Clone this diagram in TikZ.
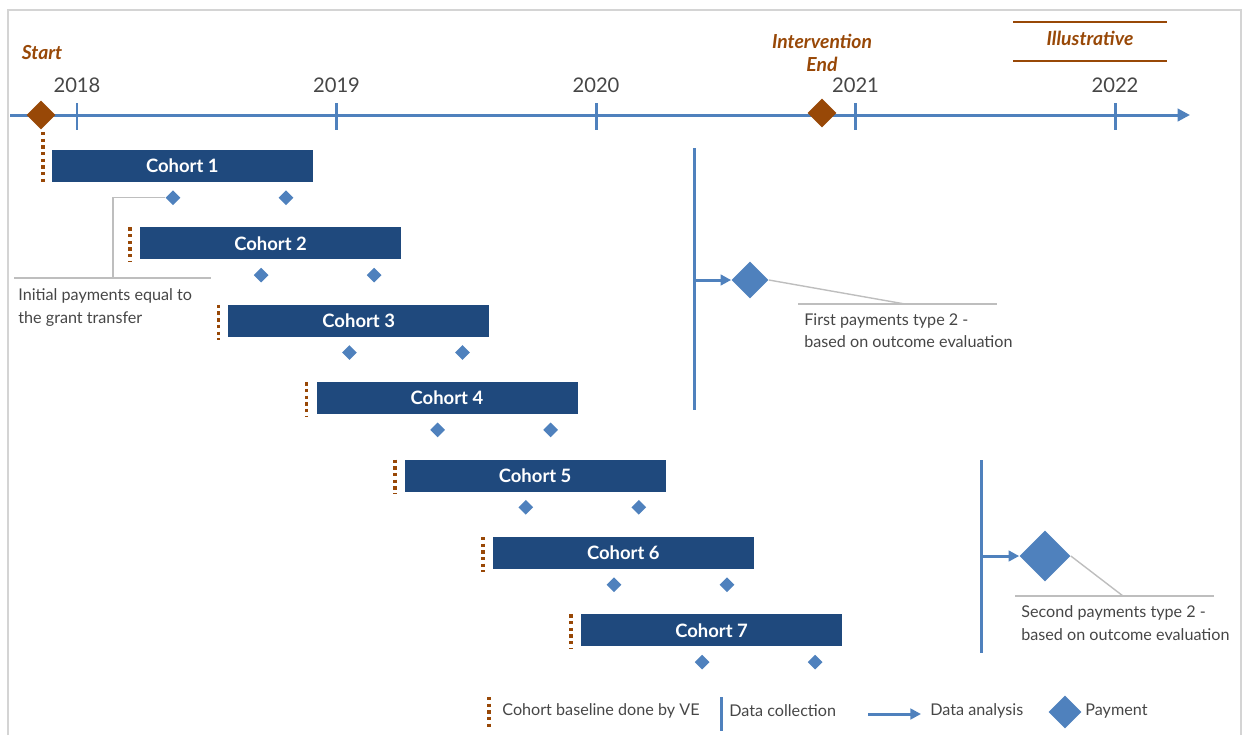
\documentclass[tikz,border=0pt]{standalone}
\usepackage{fontspec}
\setmainfont{Lato}
\usetikzlibrary{arrows.meta, positioning, shapes.geometric, calc}

\begin{document}
\begin{tikzpicture}[x=0.02cm, y=-0.02cm, every node/.style={font=\fontsize{9.2}{13}\selectfont, text=textgray}]
    % Define consistent colors
    \definecolor{barblue}{RGB}{31,73,125}
    \definecolor{lineblue}{RGB}{79,129,189}
    \definecolor{mbrown}{RGB}{152,72,7}
    \definecolor{textgray}{RGB}{70,70,70}
    \definecolor{framegray}{RGB}{212,212,212}
    \definecolor{calloutgray}{RGB}{190,190,190}

    \tikzset{
        cohortbar/.style={fill=barblue, draw=barblue, anchor=north west, minimum width=5.2cm, minimum height=0.62cm, inner sep=0pt, text=white, font=\fontsize{10.5}{12}\selectfont\bfseries},
        pay/.style={diamond, fill=lineblue, inner sep=0pt, minimum size=0.3cm},
        bigpay/.style={diamond, fill=lineblue, inner sep=0pt},
        milestone/.style={diamond, fill=mbrown, inner sep=0pt, minimum size=0.58cm},
        brownlabel/.style={text=mbrown, font=\fontsize{11}{13.5}\selectfont\bfseries\itshape},
        baseline/.style={mbrown, line width=2pt, dash pattern=on 1.9pt off 1.9pt},
        axisline/.style={lineblue, line width=1.7pt},
        collect/.style={lineblue, line width=1.7pt},
        analysis/.style={lineblue, line width=1.7pt, -{Triangle[length=6pt, width=6pt]}},
        callout/.style={calloutgray, line width=0.8pt},
        note/.style={anchor=north west, align=left, inner sep=0pt}
    }

    \useasboundingbox (0,0) rectangle (1244,735);

    % Frame
    \draw[framegray, line width=1pt] (8,735) -- (8,10) -- (1241,10) -- (1241,735);

    % Time axis with years
    \coordinate (axstart) at (10,115);
    \coordinate (axend) at (1190,115);
    \draw[axisline, -{Triangle[length=7pt, width=7pt]}] (axstart) -- (axend);
    \foreach \yr [count=\k from 0] in {2018,...,2022} {
        \draw[axisline] ({77+259.5*\k},103) -- ++(0,27);
        \node[font=\fontsize{11.5}{13}\selectfont] (y\yr) at ({77+259.5*\k},85) {\yr};
    }

    % Milestones
    \node[milestone] (start) at (41,115) {};
    \node[milestone] (interend) at (822,113) {};
    \node[brownlabel] (startlbl) at (42,53) {Start};
    \node[brownlabel, align=center] (endlbl) at (822,53) {Intervention\\End};
    \node[brownlabel] (illus) at (1090,38) {Illustrative};
    \draw[mbrown, line width=1pt] ($(illus)+(-77,-16)$) -- ++(154,0);
    \draw[mbrown, line width=1pt] ($(illus)+(-77,23)$) -- ++(154,0);

    % Cohorts with baselines and payments
    \foreach \i in {1,...,7} {
        \node[cohortbar] (c\i) at ({52+88.2*(\i-1)},{150+77.4*(\i-1)}) {Cohort \i};
        \node[pay] (p\i a) at ($(c\i.south west)+(121,16)$) {};
        \node[pay] (p\i b) at ($(c\i.south west)+(234,16)$) {};
    }
    \draw[baseline] (start.south) ++(2,2) -- ($(c1.south west)+(-9,2)$);
    \foreach \i in {2,...,7} {
        \draw[baseline] ($(c\i.north west)+(-10,0)$) -- ($(c\i.south west)+(-10,3)$);
    }

    % Initial payments callout
    \coordinate (knee1) at (113,278);
    \draw[callout] (p1a.west) -| (knee1);
    \draw[callout] (14,278) -- (211,278);
    \node[note] (initnote) at (18,288) {Initial payments equal to\\the grant transfer};

    % First data collection and analysis
    \coordinate (dc1top) at (694,148);
    \coordinate (dc1bot) at (694,410);
    \coordinate (dc1mid) at (694,280);
    \draw[collect] (dc1top) -- (dc1bot);
    \node[bigpay, minimum size=0.74cm] (pay1) at (750,280) {};
    \draw[analysis] (dc1mid) -- (pay1.west);
    \coordinate (elbow1) at (905,304);
    \draw[callout] (pay1.east) -- (elbow1);
    \draw[callout] (798,304) -- (997,304);
    \node[note] (firstnote) at (804,313) {First payments type 2 -\\based on outcome evaluation};

    % Second data collection and analysis
    \coordinate (dc2top) at (981,460);
    \coordinate (dc2bot) at (981,653);
    \coordinate (dc2mid) at (981,556);
    \draw[collect] (dc2top) -- (dc2bot);
    \node[bigpay, minimum size=1.02cm] (pay2) at (1045,556) {};
    \draw[analysis] (dc2mid) -- (pay2.west);
    \coordinate (elbow2) at (1123,596);
    \draw[callout] (pay2.east) -- (elbow2);
    \draw[callout] (1015,596) -- (1214,596);
    \node[note] (secondnote) at (1021,605) {Second payments type 2 -\\based on outcome evaluation};

    % Legend
    \coordinate (lg1a) at (489,697);
    \coordinate (lg1b) at (489,730);
    \draw[baseline] (lg1a) -- (lg1b);
    \node[anchor=west, inner sep=0pt] (lgbase) at (502,711) {Cohort baseline done by VE};
    \coordinate (lg2a) at (721,697);
    \coordinate (lg2b) at (721,731);
    \draw[collect] (lg2a) -- (lg2b);
    \node[anchor=west, inner sep=0pt] (lgcollect) at (729,711) {Data collection};
    \coordinate (lg3a) at (868,714);
    \coordinate (lg3b) at (921,714);
    \draw[analysis] (lg3a) -- (lg3b);
    \node[anchor=west, inner sep=0pt] (lganalysis) at (930,711) {Data analysis};
    \node[bigpay, minimum size=0.66cm] (lgpay) at (1065,712) {};
    \node[anchor=west, inner sep=0pt] (lgpaytext) at (1085,711) {Payment};
\end{tikzpicture}
\end{document}
